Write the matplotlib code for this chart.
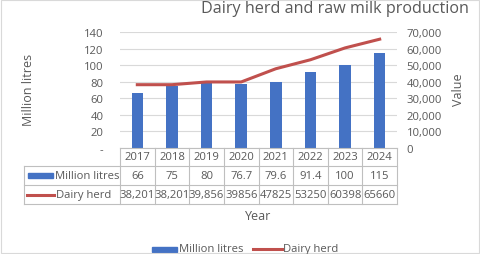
import matplotlib
matplotlib.use("Agg")
from matplotlib import pyplot as plt
from matplotlib.patches import Rectangle
from matplotlib.lines import Line2D
import numpy as np

years = ["2017", "2018", "2019", "2020", "2021", "2022", "2023", "2024"]
milk = [66, 75, 80, 76.7, 79.6, 91.4, 100, 115]
herd = [38201, 38201, 39856, 39856, 47825, 53250, 60398, 65660]
milk_labels = ["66", "75", "80", "76.7", "79.6", "91.4", "100", "115"]
herd_labels = ["38,201", "38,201", "39,856", "39856", "47825", "53250", "60398", "65660"]

W, H = 480, 255
blue = "#4472C4"
red = "#C0504D"
txt = "#595959"
grid = "#D9D9D9"
fs = 8.1
plt.rcParams['font.family'] = ['Open Sans', 'DejaVu Sans']

def fx(x):
    return x / W

def fy(y):
    return 1 - y / H

fig = plt.figure(figsize=(W / 100, H / 100), dpi=100)

left, right, top, bot = 120, 397, 33, 149
ax = fig.add_axes([fx(left), fy(bot), (right - left) / W, (bot - top) / H])
x = np.arange(len(years))
ax.bar(x, milk, width=0.33, color=blue, zorder=2)
ax.set_xlim(-0.5, len(years) - 0.5)
ax.set_ylim(0, 140)
ax.set_yticks(range(0, 141, 20))
ax.set_yticklabels(["-"] + [str(v) for v in range(20, 141, 20)])
ax.yaxis.grid(True, color=grid, lw=0.8, zorder=0)
ax.set_xticks([])
for s in ax.spines.values():
    s.set_visible(False)
ax.tick_params(axis='y', length=0, labelsize=fs, labelcolor=txt, pad=12)
ax.set_ylabel("Million litres", fontsize=9, color=txt)
ax.yaxis.set_label_coords((35 - left) / (right - left), 0.51)

ax2 = ax.twinx()
ax2.plot(x, herd, color=red, lw=2.2, zorder=3)
ax2.set_ylim(0, 70000)
ax2.set_yticks(range(0, 70001, 10000))
ax2.set_yticklabels(["0"] + ["{:,}".format(v) for v in range(10000, 70001, 10000)])
for s in ax2.spines.values():
    s.set_visible(False)
ax2.tick_params(axis='y', length=0, labelsize=fs, labelcolor=txt, pad=7)
ax2.set_ylabel("Value", fontsize=9, color=txt)
ax2.yaxis.set_label_coords((452 - left) / (right - left), 0.51)

fig.text(fx(335), fy(9), "Dairy herd and raw milk production", fontsize=11.6,
         color=txt, ha='center', va='center')

# data table
lc = "#BFBFBF"
rows = [149, 167, 186, 205]
cw = (right - left) / len(years)
def hline(y, x0, x1):
    fig.add_artist(Line2D([fx(x0), fx(x1)], [fy(y), fy(y)], color=lc, lw=0.8))
def vline(x0, y0, y1):
    fig.add_artist(Line2D([fx(x0), fx(x0)], [fy(y0), fy(y1)], color=lc, lw=0.8))

hline(rows[0], left, right)
for y in rows[1:]:
    hline(y, 24, right)
vline(24, rows[1], rows[3])
for i in range(len(years) + 1):
    vline(left + i * cw, rows[0], rows[3])

for i in range(len(years)):
    cx = left + (i + 0.5) * cw
    fig.text(fx(cx), fy((rows[0] + rows[1]) / 2), years[i], fontsize=fs, color=txt, ha='center', va='center')
    fig.text(fx(cx), fy((rows[1] + rows[2]) / 2), milk_labels[i], fontsize=fs, color=txt, ha='center', va='center')
    fig.text(fx(cx), fy((rows[2] + rows[3]) / 2), herd_labels[i], fontsize=fs, color=txt, ha='center', va='center')

ym = (rows[1] + rows[2]) / 2
fig.add_artist(Rectangle((fx(28), fy(ym + 2.5)), 25 / W, 5 / H, color=blue))
fig.text(fx(55), fy(ym), "Million litres", fontsize=fs, color=txt, ha='left', va='center')
yh = (rows[2] + rows[3]) / 2
fig.add_artist(Line2D([fx(27), fx(54)], [fy(yh), fy(yh)], color=red, lw=2.2))
fig.text(fx(56), fy(yh), "Dairy herd", fontsize=fs, color=txt, ha='left', va='center')

fig.text(fx(258), fy(217), "Year", fontsize=9, color=txt, ha='center', va='center')

# legend
yl = 250
fig.add_artist(Rectangle((fx(152), fy(yl + 2.5)), 25 / W, 5 / H, color=blue))
fig.text(fx(179), fy(yl), "Million litres", fontsize=fs, color=txt, ha='left', va='center')
fig.add_artist(Line2D([fx(253), fx(282)], [fy(yl), fy(yl)], color=red, lw=2.2))
fig.text(fx(283), fy(yl), "Dairy herd", fontsize=fs, color=txt, ha='left', va='center')

fig.add_artist(Rectangle((0.002, 0.002), 0.996, 0.996, fill=False, ec=grid, lw=0.8))

fig.savefig("out.png", dpi=100)
